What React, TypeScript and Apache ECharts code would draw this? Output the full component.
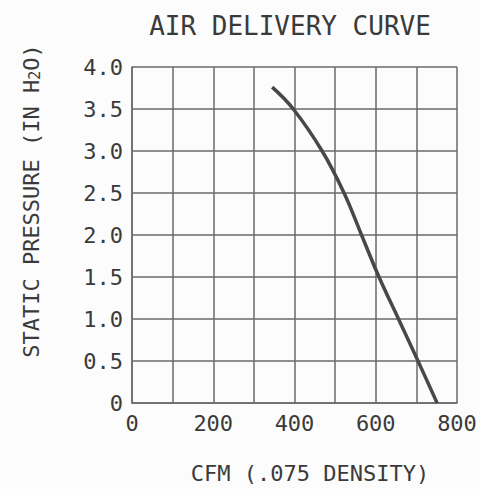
import React, { useEffect, useRef } from "react";
import * as echarts from "echarts";

const titleText = "AIR DELIVERY CURVE";
const xAxisTitle = "CFM (.075 DENSITY)";
const yAxisTitle = "STATIC PRESSURE (IN H2O)";
const xTicks = [0, 100, 200, 300, 400, 500, 600, 700, 800];
const xLabeled = [0, 200, 400, 600, 800];
const yTicks = [0, 0.5, 1.0, 1.5, 2.0, 2.5, 3.0, 3.5, 4.0];
const cfm = [345, 397, 468, 522, 565, 608, 656, 704, 751];
const pressure = [3.76, 3.5, 3.0, 2.5, 2.0, 1.5, 1.0, 0.5, 0];

const FONT = "DejaVu Sans Mono";
const INK = "#3a3a3a";
const GRID = "#6a6a6a";

export default function App() {
  const ref = useRef<HTMLDivElement>(null);
  useEffect(() => {
    if (!ref.current) return;
    const chart = echarts.init(ref.current, null, { renderer: "svg" });
    chart.setOption({
      animation: false,
      backgroundColor: "#fcfcfc",
      title: {
        text: titleText,
        left: 285,
        top: 8,
        textAlign: "center",
        textStyle: { fontFamily: FONT, fontSize: 26, fontWeight: "normal", color: INK },
      },
      grid: { left: 132, right: 23, top: 67, bottom: 86 },
      xAxis: {
        type: "value",
        min: xTicks[0],
        max: xTicks[xTicks.length - 1],
        interval: 100,
        axisLine: { show: true, lineStyle: { color: GRID, width: 1.5 } },
        axisTick: { show: false },
        splitLine: { show: true, lineStyle: { color: GRID, width: 1.5 } },
        axisLabel: {
          margin: 9,
          fontFamily: FONT,
          fontSize: 22,
          color: INK,
          formatter: (v: number) => (xLabeled.includes(v) ? String(v) : ""),
        },
      },
      yAxis: {
        type: "value",
        min: yTicks[0],
        max: yTicks[yTicks.length - 1],
        interval: 0.5,
        axisLine: { show: true, lineStyle: { color: GRID, width: 1.5 } },
        axisTick: { show: false },
        splitLine: { show: true, lineStyle: { color: GRID, width: 1.5 } },
        axisLabel: {
          margin: 9,
          fontFamily: FONT,
          fontSize: 22,
          color: INK,
          formatter: (v: number) => (v === 0 ? "0" : v.toFixed(1)),
        },
      },
      graphic: [
        {
          type: "text",
          x: 310,
          y: 473,
          style: {
            text: xAxisTitle,
            font: `22px "${FONT}"`,
            fill: INK,
            align: "center",
            verticalAlign: "middle",
          },
        },
        {
          type: "text",
          x: 31,
          y: 201,
          rotation: Math.PI / 2,
          style: {
            text: "{a|STATIC PRESSURE (IN H}{b|2}{a|O)}",
            align: "center",
            verticalAlign: "middle",
            fill: INK,
            rich: {
              a: { fontFamily: FONT, fontSize: 22, fill: INK, verticalAlign: "middle" },
              b: { fontFamily: FONT, fontSize: 15, fill: INK, verticalAlign: "bottom" },
            },
          },
        },
      ],
      series: [
        {
          type: "line",
          name: yAxisTitle,
          data: cfm.map((c, i) => [c, pressure[i]]),
          smooth: 0.4,
          showSymbol: false,
          symbol: "none",
          lineStyle: { color: "#484848", width: 3.5 },
        },
      ],
    });
    return () => chart.dispose();
  }, []);
  return (
    <div
      ref={ref}
      style={{ position: "fixed", left: 0, top: 0, width: 480, height: 489 }}
    />
  );
}
